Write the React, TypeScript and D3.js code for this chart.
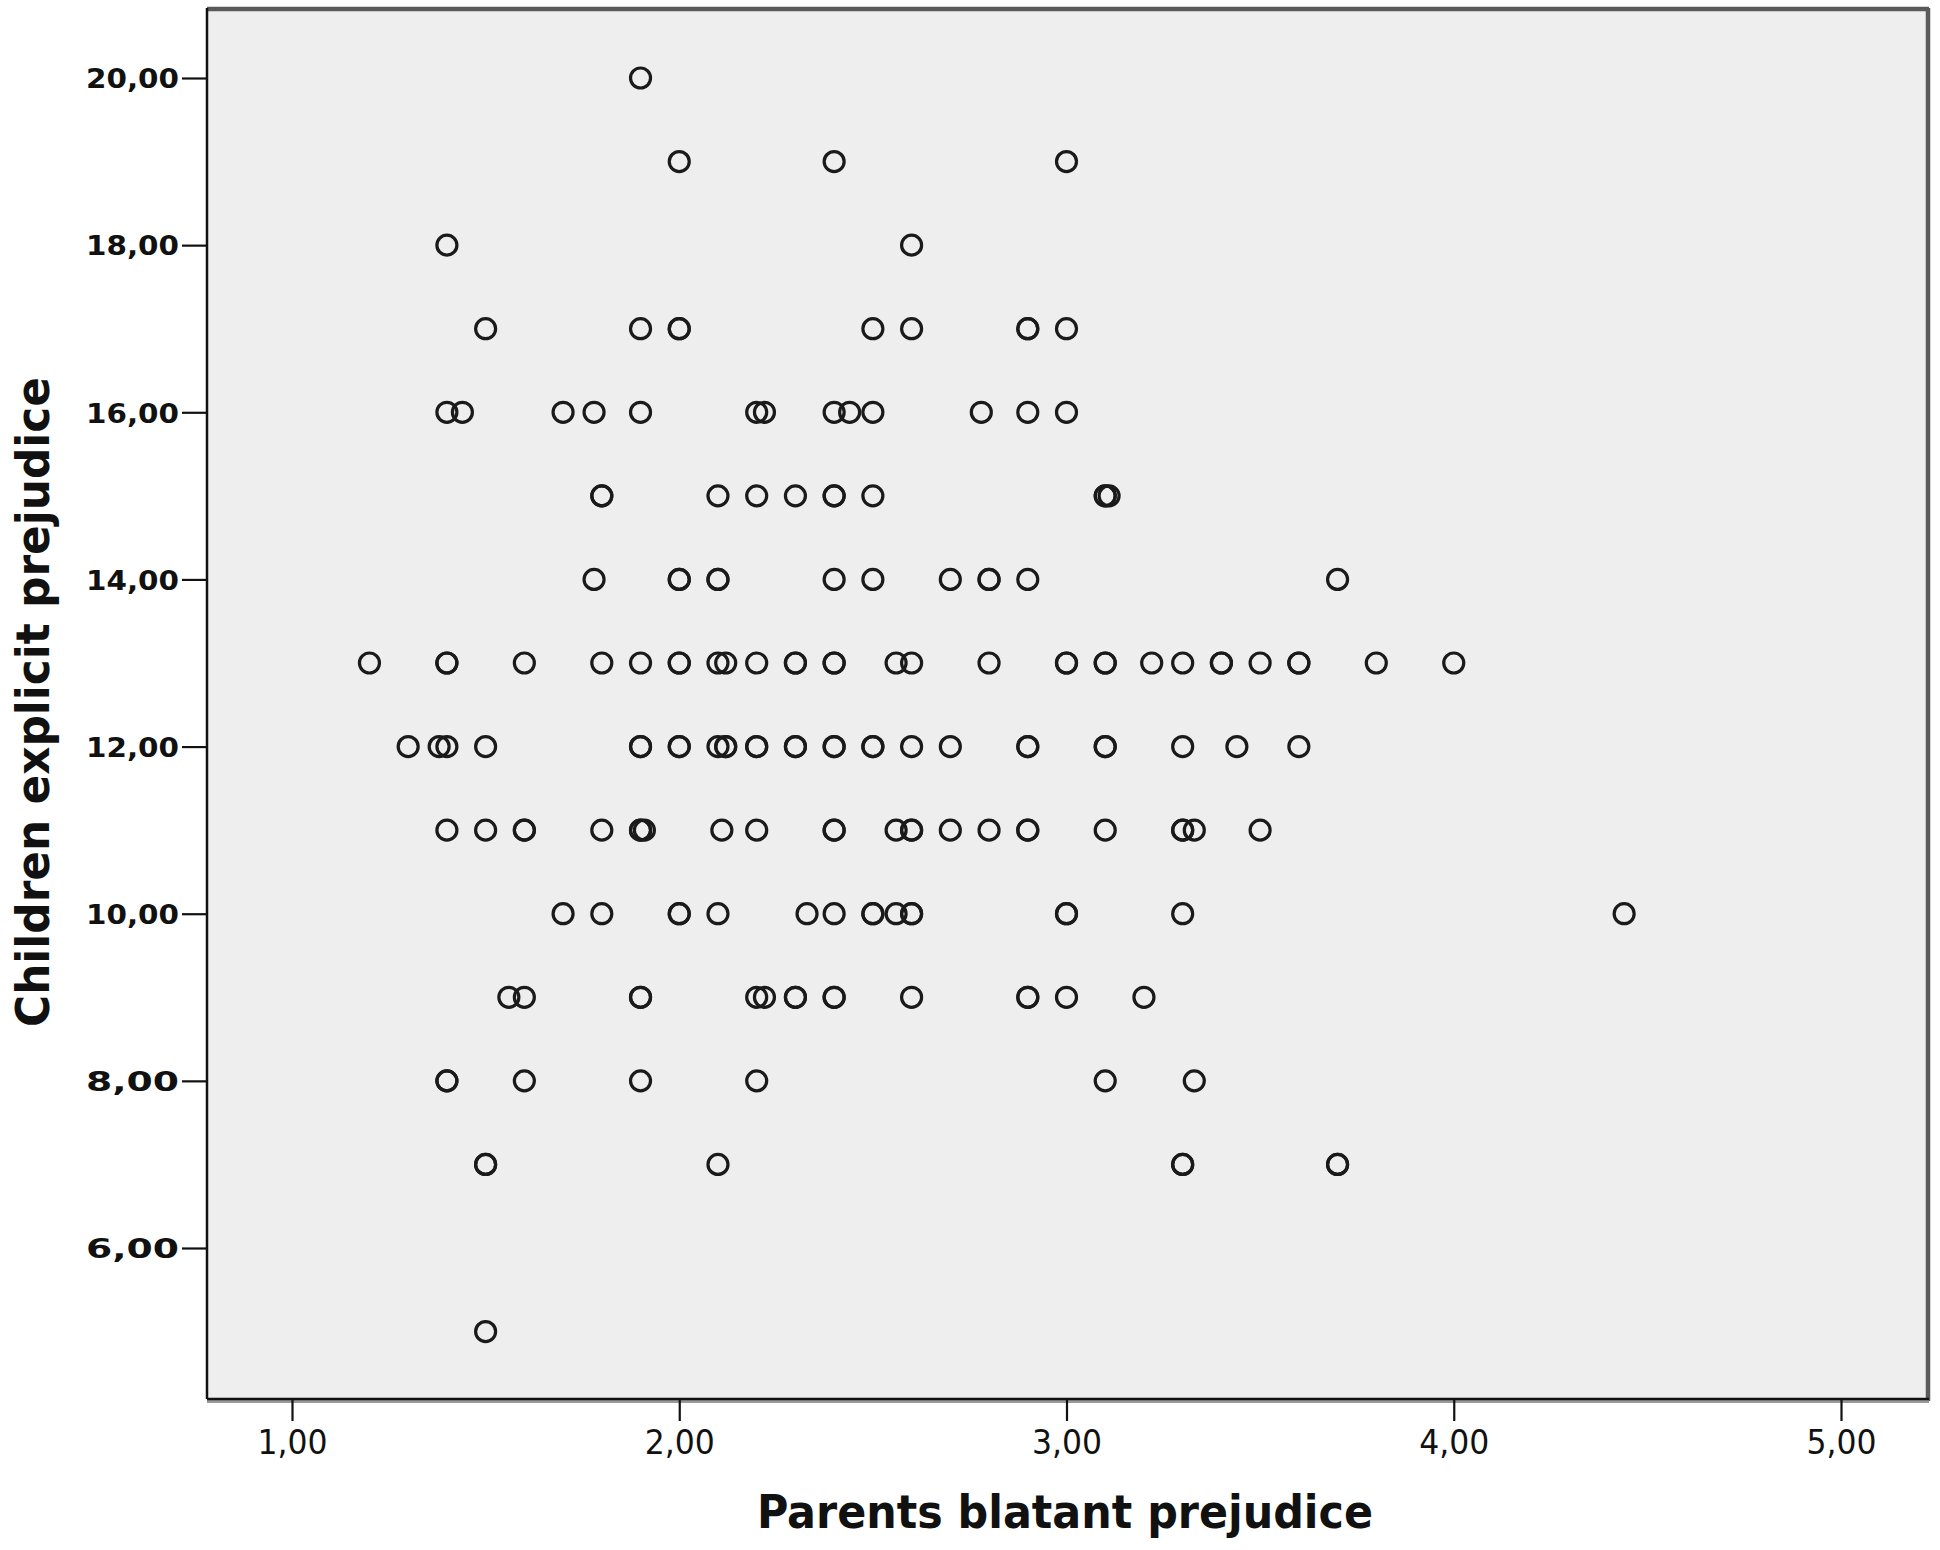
import { useEffect, useRef } from "react";
import * as d3 from "d3";

// children's score per row, and the parents' scores found on that row
const childScores = [20, 19, 18, 17, 16, 15, 14, 13, 12, 11, 10, 9, 8, 7, 5];
const parentScoresByRow = [
  [1.9],
  [2.0, 2.4, 3.0],
  [1.4, 2.6],
  [1.5, 1.9, 2.0, 2.0, 2.5, 2.6, 2.9, 2.9, 3.0],
  [1.4, 1.44, 1.7, 1.78, 1.9, 2.2, 2.22, 2.4, 2.44, 2.5, 2.78, 2.9, 3.0],
  [1.8, 1.8, 2.1, 2.2, 2.3, 2.4, 2.4, 2.5, 3.1, 3.1, 3.11],
  [1.78, 2.0, 2.0, 2.1, 2.1, 2.4, 2.5, 2.7, 2.8, 2.8, 2.9, 3.7],
  [
    1.2, 1.4, 1.4, 1.6, 1.8, 1.9, 2.0, 2.0, 2.1, 2.12, 2.2, 2.3, 2.3, 2.4, 2.4,
    2.56, 2.6, 2.8, 3.0, 3.0, 3.1, 3.1, 3.22, 3.3, 3.4, 3.4, 3.5, 3.6, 3.6, 3.8,
    4.0,
  ],
  [
    1.3, 1.38, 1.4, 1.5, 1.9, 1.9, 2.0, 2.0, 2.1, 2.12, 2.12, 2.2, 2.2, 2.3,
    2.3, 2.4, 2.4, 2.5, 2.5, 2.6, 2.7, 2.9, 2.9, 3.1, 3.1, 3.3, 3.44, 3.6,
  ],
  [
    1.4, 1.5, 1.6, 1.6, 1.8, 1.9, 1.9, 1.91, 2.11, 2.2, 2.4, 2.4, 2.56, 2.6,
    2.6, 2.7, 2.8, 2.9, 2.9, 3.1, 3.3, 3.3, 3.33, 3.5,
  ],
  [1.7, 1.8, 2.0, 2.0, 2.1, 2.33, 2.4, 2.5, 2.5, 2.56, 2.6, 2.6, 3.0, 3.0, 3.3, 4.44],
  [1.56, 1.6, 1.9, 1.9, 2.2, 2.22, 2.3, 2.3, 2.4, 2.4, 2.6, 2.9, 2.9, 3.0, 3.2],
  [1.4, 1.4, 1.6, 1.9, 2.2, 3.1, 3.33],
  [1.5, 1.5, 2.1, 3.3, 3.3, 3.7, 3.7],
  [1.5],
];

const xTicks = [1, 2, 3, 4, 5];
const yTicks = [6, 8, 10, 12, 14, 16, 18, 20];
const xTitle = "Parents blatant prejudice";
const yTitle = "Children explicit prejudice";

const width = 1940;
const height = 1550;

const App = () => {
  const svgRef = useRef(null);

  useEffect(() => {
    const svg = d3.select(svgRef.current);
    svg.selectAll("*").remove();

    const frame = { left: 207, right: 1929, top: 8, bottom: 1399 };

    const x = d3.scaleLinear().domain([1, 5]).range([292, 1841]);
    const y = d3.scaleLinear().domain([6, 20]).range([1248, 78]);

    const fmt = d3
      .formatLocale({
        decimal: ",",
        thousands: ".",
        grouping: [3],
        currency: ["", ""],
      })
      .format(".2f");

    // plot background + frame
    svg
      .append("rect")
      .attr("x", frame.left)
      .attr("y", frame.top)
      .attr("width", frame.right - frame.left)
      .attr("height", frame.bottom - frame.top)
      .attr("fill", "#eeeeee");

    svg
      .append("line")
      .attr("x1", frame.left)
      .attr("x2", frame.right)
      .attr("y1", frame.top + 1)
      .attr("y2", frame.top + 1)
      .attr("stroke", "#5a5a5a")
      .attr("stroke-width", 4.5);
    svg
      .append("line")
      .attr("x1", frame.right - 1)
      .attr("x2", frame.right - 1)
      .attr("y1", frame.top)
      .attr("y2", frame.bottom + 2)
      .attr("stroke", "#5a5a5a")
      .attr("stroke-width", 4.5);

    // bottom shadow
    svg
      .append("line")
      .attr("x1", frame.left)
      .attr("x2", frame.right)
      .attr("y1", frame.bottom + 2.5)
      .attr("y2", frame.bottom + 2.5)
      .attr("stroke", "#999")
      .attr("stroke-width", 3);

    const xAxis = (g) =>
      g
        .attr("transform", `translate(0,${frame.bottom})`)
        .call(
          d3
            .axisBottom(x)
            .tickValues(xTicks)
            .tickSize(22)
            .tickFormat(fmt)
        )
        .call((g) =>
          g
            .select(".domain")
            .attr("d", `M${frame.left},0H${frame.right}`)
            .attr("stroke", "#111")
            .attr("stroke-width", 2.5)
        )
        .call((g) => g.selectAll(".tick line").attr("stroke", "#111").attr("stroke-width", 2.2))
        .call((g) =>
          g
            .selectAll(".tick text")
            .attr("y", 55)
            .attr("dy", 0)
            .attr("fill", "#111")
            .attr("font-family", "'DejaVu Sans Condensed', 'DejaVu Sans', sans-serif")
            .attr("font-size", 34)
            .attr("textLength", 70)
            .attr("lengthAdjust", "spacingAndGlyphs")
        );

    const yAxis = (g) =>
      g
        .attr("transform", `translate(${frame.left},0)`)
        .call(
          d3
            .axisLeft(y)
            .tickValues(yTicks)
            .tickSize(25)
            .tickPadding(3)
            .tickFormat(fmt)
        )
        .call((g) =>
          g
            .select(".domain")
            .attr("d", `M0,${frame.top}V${frame.bottom}`)
            .attr("stroke", "#111")
            .attr("stroke-width", 2.5)
        )
        .call((g) => g.selectAll(".tick line").attr("stroke", "#111").attr("stroke-width", 2.2))
        .call((g) =>
          g
            .selectAll(".tick text")
            .attr("dy", "0.36em")
            .attr("fill", "#111")
            .attr("font-family", "'DejaVu Sans', Verdana, sans-serif")
            .attr("font-weight", "bold")
            .attr("font-size", 27)
            .attr("textLength", 93)
            .attr("lengthAdjust", "spacingAndGlyphs")
        );

    svg.append("g").call(xAxis);
    svg.append("g").call(yAxis);

    const points = childScores.flatMap((c, i) =>
      parentScoresByRow[i].map((p) => ({ parent: p, child: c }))
    );

    svg
      .append("g")
      .selectAll("circle")
      .data(points)
      .join("circle")
      .attr("cx", (d) => x(d.parent))
      .attr("cy", (d) => y(d.child))
      .attr("r", 10)
      .attr("fill", "none")
      .attr("stroke", "#1a1a1a")
      .attr("stroke-width", 3.2);

    // axis titles
    svg
      .append("text")
      .attr("x", 1065)
      .attr("y", 1528)
      .attr("text-anchor", "middle")
      .attr("font-family", "'DejaVu Sans Condensed', 'DejaVu Sans', sans-serif")
      .attr("font-weight", "bold")
      .attr("font-size", 46)
      .attr("fill", "#111")
      .attr("textLength", 616)
      .attr("lengthAdjust", "spacingAndGlyphs")
      .text(xTitle);

    svg
      .append("text")
      .attr("transform", "translate(49,702) rotate(-90)")
      .attr("text-anchor", "middle")
      .attr("font-family", "'DejaVu Sans Condensed', 'DejaVu Sans', sans-serif")
      .attr("font-weight", "bold")
      .attr("font-size", 46)
      .attr("fill", "#111")
      .attr("textLength", 650)
      .attr("lengthAdjust", "spacingAndGlyphs")
      .text(yTitle);
  }, []);

  return (
    <svg
      ref={svgRef}
      width={width}
      height={height}
      style={{ position: "absolute", left: 0, top: 0, background: "#fff" }}
    />
  );
};

export default App;
